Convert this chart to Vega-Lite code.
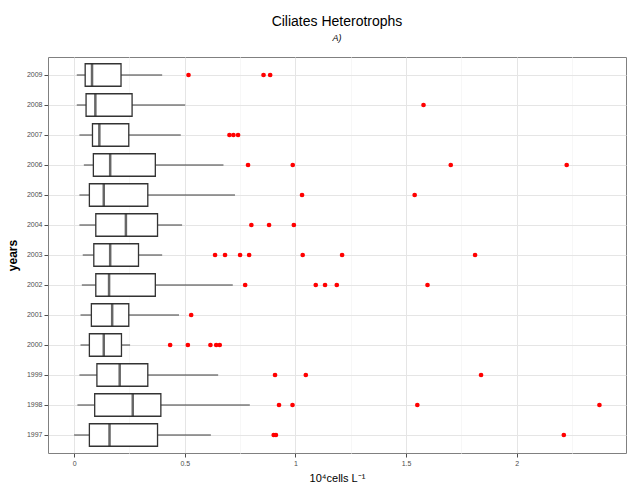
{
  "$schema": "https://vega.github.io/schema/vega-lite/v6.json",
  "width": 578,
  "height": 396,
  "autosize": "none",
  "padding": {"left": 48, "top": 57, "right": 1, "bottom": 32},
  "title": {
    "text": "Ciliates Heterotrophs",
    "subtitle": "A)",
    "anchor": "middle",
    "frame": "group",
    "font": "Liberation Sans",
    "fontSize": 14,
    "fontWeight": "normal",
    "color": "#000000",
    "subtitleFont": "Liberation Sans",
    "subtitleFontSize": 9,
    "subtitleFontStyle": "italic",
    "subtitleColor": "#000000",
    "subtitlePadding": 5,
    "offset": 14
  },
  "config": {
    "view": {"stroke": "#808080", "strokeWidth": 1},
    "font": "Liberation Sans"
  },
  "datasets": {
    "boxes": [
      {"year": "2009", "lo": 0.012, "q1": 0.05, "med": 0.081, "q3": 0.212, "hi": 0.398},
      {"year": "2008", "lo": 0.012, "q1": 0.054, "med": 0.096, "q3": 0.262, "hi": 0.502},
      {"year": "2007", "lo": 0.024, "q1": 0.083, "med": 0.114, "q3": 0.247, "hi": 0.482},
      {"year": "2006", "lo": 0.044, "q1": 0.087, "med": 0.163, "q3": 0.367, "hi": 0.675},
      {"year": "2005", "lo": 0.024, "q1": 0.069, "med": 0.134, "q3": 0.333, "hi": 0.727},
      {"year": "2004", "lo": 0.024, "q1": 0.098, "med": 0.234, "q3": 0.377, "hi": 0.488},
      {"year": "2003", "lo": 0.039, "q1": 0.089, "med": 0.163, "q3": 0.291, "hi": 0.398},
      {"year": "2002", "lo": 0.035, "q1": 0.098, "med": 0.158, "q3": 0.367, "hi": 0.717},
      {"year": "2001", "lo": 0.029, "q1": 0.078, "med": 0.172, "q3": 0.247, "hi": 0.474},
      {"year": "2000", "lo": 0.029, "q1": 0.069, "med": 0.134, "q3": 0.214, "hi": 0.253},
      {"year": "1999", "lo": 0.024, "q1": 0.103, "med": 0.206, "q3": 0.333, "hi": 0.651},
      {"year": "1998", "lo": 0.015, "q1": 0.093, "med": 0.265, "q3": 0.392, "hi": 0.794},
      {"year": "1997", "lo": 0.0, "q1": 0.069, "med": 0.160, "q3": 0.377, "hi": 0.618}
    ],
    "outliers": [
      {"year": "2009", "value": 0.517}, {"year": "2009", "value": 0.856}, {"year": "2009", "value": 0.886},
      {"year": "2008", "value": 1.579},
      {"year": "2007", "value": 0.702}, {"year": "2007", "value": 0.72}, {"year": "2007", "value": 0.741},
      {"year": "2006", "value": 0.786}, {"year": "2006", "value": 0.988}, {"year": "2006", "value": 1.702}, {"year": "2006", "value": 2.226},
      {"year": "2005", "value": 1.030}, {"year": "2005", "value": 1.539},
      {"year": "2004", "value": 0.801}, {"year": "2004", "value": 0.881}, {"year": "2004", "value": 0.993},
      {"year": "2003", "value": 0.637}, {"year": "2003", "value": 0.682}, {"year": "2003", "value": 0.750}, {"year": "2003", "value": 0.791}, {"year": "2003", "value": 1.033}, {"year": "2003", "value": 1.211}, {"year": "2003", "value": 1.812},
      {"year": "2002", "value": 0.773}, {"year": "2002", "value": 1.092}, {"year": "2002", "value": 1.134}, {"year": "2002", "value": 1.187}, {"year": "2002", "value": 1.597},
      {"year": "2001", "value": 0.529},
      {"year": "2000", "value": 0.434}, {"year": "2000", "value": 0.514}, {"year": "2000", "value": 0.616}, {"year": "2000", "value": 0.642}, {"year": "2000", "value": 0.658},
      {"year": "1999", "value": 0.908}, {"year": "1999", "value": 1.047}, {"year": "1999", "value": 1.839},
      {"year": "1998", "value": 0.926}, {"year": "1998", "value": 0.987}, {"year": "1998", "value": 1.551}, {"year": "1998", "value": 2.374},
      {"year": "1997", "value": 0.902}, {"year": "1997", "value": 0.912}, {"year": "1997", "value": 2.213}
    ]
  },
  "encoding": {
    "y": {
      "field": "year",
      "type": "nominal",
      "sort": "descending",
      "scale": {"type": "band", "paddingInner": 0.25, "paddingOuter": 0.225},
      "axis": {
        "title": "years",
        "titleFont": "Liberation Sans",
        "titleFontSize": 12,
        "titleFontWeight": "bold",
        "titleColor": "#000000",
        "titlePadding": 7,
        "labelFontSize": 7,
        "labelColor": "#4d4d4d",
        "labelPadding": 2,
        "tickSize": 4,
        "tickColor": "#4d4d4d",
        "domain": false,
        "grid": true,
        "gridColor": "#e5e5e5",
        "gridWidth": 1
      }
    }
  },
  "layer": [
    {
      "data": {"name": "boxes"},
      "mark": {"type": "rule", "color": "#3d3d3d", "strokeWidth": 1},
      "encoding": {
        "x": {
          "field": "lo",
          "type": "quantitative",
          "scale": {"domain": [-0.118, 2.494], "nice": false, "zero": false},
          "axis": {
            "title": "10⁴cells L⁻¹",
            "titleFont": "Liberation Sans",
            "titleFontSize": 11,
            "titleFontWeight": "normal",
            "titleColor": "#000000",
            "titlePadding": 6,
            "values": [0, 0.25, 0.5, 0.75, 1, 1.25, 1.5, 1.75, 2, 2.25],
            "labelExpr": "datum.value % 0.5 === 0 ? format(datum.value, '~g') : ''",
            "labelFontSize": 7,
            "labelColor": "#4d4d4d",
            "labelPadding": 2,
            "tickSize": 4,
            "tickColor": {"condition": {"test": "datum.value % 0.5 !== 0", "value": "transparent"}, "value": "#4d4d4d"},
            "domain": false,
            "grid": true,
            "gridColor": {"condition": {"test": "datum.value % 0.5 !== 0", "value": "#f7f7f7"}, "value": "#e5e5e5"},
            "gridWidth": 1
          }
        },
        "x2": {"field": "hi"}
      }
    },
    {
      "data": {"name": "boxes"},
      "mark": {"type": "bar", "fill": "#ffffff", "stroke": "#333333", "strokeWidth": 1.3},
      "encoding": {
        "x": {"field": "q1", "type": "quantitative"},
        "x2": {"field": "q3"}
      }
    },
    {
      "data": {"name": "boxes"},
      "mark": {"type": "tick", "color": "#262626", "thickness": 2.5, "size": 22.5},
      "encoding": {
        "x": {"field": "med", "type": "quantitative"}
      }
    },
    {
      "data": {"name": "outliers"},
      "mark": {"type": "circle", "color": "#ff0000", "size": 22, "opacity": 1},
      "encoding": {
        "x": {"field": "value", "type": "quantitative"}
      }
    }
  ]
}
